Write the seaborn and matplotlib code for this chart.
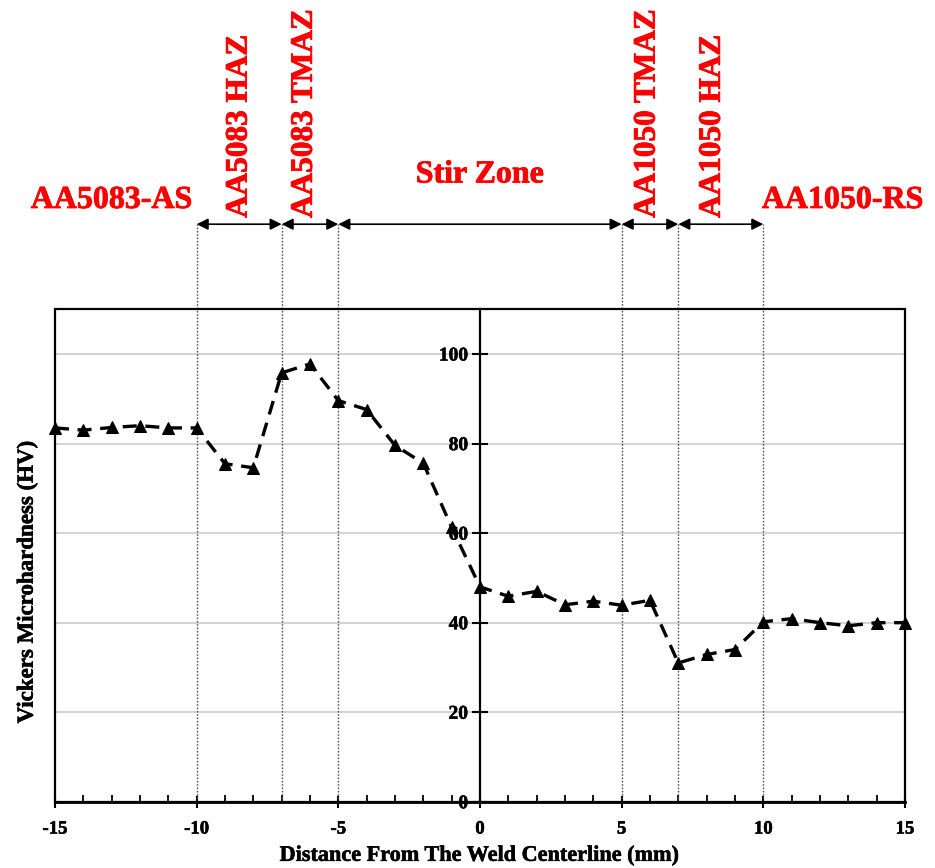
import numpy as np
import pandas as pd
import seaborn as sns
import matplotlib.pyplot as plt
import matplotlib.patheffects as pe
from matplotlib.patches import Rectangle
from matplotlib.ticker import MultipleLocator

# Microhardness profile across the weld
distance_mm = [-15, -14, -13, -12, -11, -10, -9, -8, -7, -6, -5, -4, -3, -2, -1,
               0, 1, 2, 3, 4, 5, 6, 7, 8, 9, 10, 11, 12, 13, 14, 15]
hardness_hv = [83.5, 83.0, 83.6, 84.0, 83.5, 83.5, 75.5, 74.6, 95.8, 97.8, 89.6,
               87.6, 79.6, 75.6, 61.3, 48.0, 45.9, 47.0, 44.0, 44.8, 43.9, 45.0,
               31.0, 32.9, 34.0, 40.2, 40.9, 40.0, 39.3, 40.0, 40.0]

# Zone boundaries and labels
zone_bounds = [-10, -7, -5, 5, 7, 10]
side_labels = ["AA5083-AS", "AA1050-RS"]
side_label_x = [-13.0, 12.8]
zone_labels = ["AA5083 HAZ", "AA5083 TMAZ", "AA1050 TMAZ", "AA1050 HAZ"]
zone_label_x = [-8.5, -6.2, 5.9, 8.2]
stir_label = "Stir Zone"

x_ticks = [-15, -10, -5, 0, 5, 10, 15]
y_ticks = [0, 20, 40, 60, 80, 100]

df = pd.DataFrame({"x": distance_mm, "hv": hardness_hv})

sns.set_theme(style="white")
plt.rcParams["font.family"] = ["Liberation Serif", "DejaVu Serif"]
plt.rcParams["font.weight"] = "bold"
plt.rcParams["axes.unicode_minus"] = False

fig = plt.figure(figsize=(9.35, 8.68), dpi=100)
ax = fig.add_axes([0.0588, 0.0763, 0.9091, 0.5674])

ax.set_xlim(-15, 15)
ax.set_ylim(0, 110)

# horizontal grid
for yv in y_ticks[1:]:
    ax.axhline(yv, color="#d4d4d4", lw=1.5, zorder=0)

sns.lineplot(data=df, x="x", y="hv", ax=ax, color="black", lw=2.4,
             linestyle=(0, (4.2, 2.6)), marker="^", markersize=9,
             markeredgecolor="black", markerfacecolor="black", zorder=4)
for ln in ax.lines:
    ln.set_clip_on(False)

# y axis through the centerline, with a full frame around the plot
for s in ["top", "right"]:
    ax.spines[s].set_visible(False)
ax.spines["left"].set_position(("data", 0))
ax.spines["left"].set_linewidth(1.6)
ax.spines["left"].set_color("black")
ax.spines["bottom"].set_linewidth(2.0)
ax.spines["bottom"].set_color("black")
ax.add_patch(Rectangle((0, 0), 1, 1, transform=ax.transAxes, fill=False,
                       edgecolor="black", lw=1.6, zorder=5, clip_on=False))

heavy_black = [pe.withStroke(linewidth=0.4, foreground="black")]

ax.set_xticks(x_ticks)
ax.xaxis.set_minor_locator(MultipleLocator(1))
ax.set_yticks(y_ticks)
ax.tick_params(axis="x", which="major", direction="inout", length=9, width=1.5,
               bottom=True, labelsize=13.5, pad=9, color="black")
ax.tick_params(axis="x", which="minor", direction="in", length=5, width=1.3,
               bottom=True, color="black")
ax.tick_params(axis="y", which="major", direction="inout", length=11, width=1.5,
               left=True, labelsize=14, pad=3, color="black")
for lab in ax.get_xticklabels() + ax.get_yticklabels():
    lab.set_fontweight("bold")
    lab.set_color("black")
    lab.set_path_effects(heavy_black)

xl_txt = ax.set_xlabel("Distance From The Weld Centerline (mm)", fontsize=16,
                       fontweight="bold", labelpad=6, color="black")
xl_txt.set_path_effects(heavy_black)
ax.set_ylabel("")
fig.text(0.029, 0.0763 + 0.5674 * (800 - 582) / 490, "Vickers Microhardness (HV)",
         rotation=90, ha="center", va="center", fontsize=16.5, fontweight="bold",
         color="black", path_effects=heavy_black)

# zone boundaries above the plot
top_y = 129
for xb in zone_bounds:
    ax.plot([xb, xb], [0, top_y], color="#555555", lw=1.0, ls=(0, (1.2, 1.2)),
            clip_on=False, zorder=1)
for a, b in zip(zone_bounds[:-1], zone_bounds[1:]):
    ax.annotate("", xy=(b, top_y), xytext=(a, top_y), xycoords="data",
                arrowprops=dict(arrowstyle="<|-|>", color="black", lw=1.2,
                                mutation_scale=17, shrinkA=0, shrinkB=0),
                annotation_clip=False)

red = "#ff0000"
heavy_red = [pe.withStroke(linewidth=0.6, foreground=red)]
for lab, xl in zip(side_labels, side_label_x):
    ax.text(xl, 134.3, lab, color=red, fontsize=23, fontweight="bold",
            ha="center", va="center", clip_on=False, path_effects=heavy_red)
ax.text(0, 140.0, stir_label, color=red, fontsize=23, fontweight="bold",
        ha="center", va="center", clip_on=False, path_effects=heavy_red)
for lab, xl in zip(zone_labels, zone_label_x):
    ax.text(xl, 130.4, lab, color=red, fontsize=22.5, fontweight="bold",
            rotation=90, ha="center", va="bottom", clip_on=False,
            path_effects=heavy_red)

fig.savefig("out.png", dpi=100, facecolor="white")
